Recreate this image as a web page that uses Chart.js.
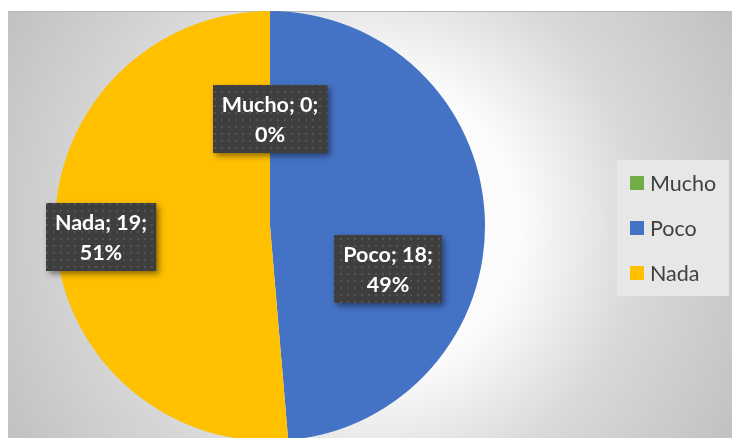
<!DOCTYPE html>
<html>
<head>
<meta charset="utf-8">
<script src="https://cdn.jsdelivr.net/npm/chart.js@4.4.1/dist/chart.umd.min.js"></script>
<style>
  html, body { margin: 0; padding: 0; background: #ffffff; }
  body { width: 732px; height: 438px; position: relative; overflow: hidden; }
  #frame { position: absolute; left: 8px; top: 11px; width: 724px; height: 427px; overflow: hidden; }
  #wrap { position: absolute; left: 0; top: 0; width: 724px; height: 430px; }
</style>
</head>
<body>
<div id="frame"><div id="wrap"><canvas id="c"></canvas></div></div>
<script>
const categories = ['Mucho', 'Poco', 'Nada'];
const values = [0, 18, 19];
const sliceColors = ['#70AD47', '#4472C4', '#FFC000'];

// label placement: angle offset (deg) from slice mid-angle, and radial fraction
const labelAngleOffset = [0, 22.4, -1.3];
const labelRadiusFrac = [0.498, 0.584, 0.788];

const total = values.reduce((a, b) => a + b, 0);

function makePattern(ctx) {
  const t = document.createElement('canvas');
  t.width = 7; t.height = 7;
  const g = t.getContext('2d');
  g.fillStyle = '#3e3e3e';
  g.fillRect(0, 0, 7, 7);
  g.fillStyle = '#535353';
  g.fillRect(3, 3, 2, 2);
  return ctx.createPattern(t, 'repeat');
}

const bgPlugin = {
  id: 'bg',
  beforeDraw(chart) {
    const ctx = chart.ctx;
    const w = chart.width, h = chart.height;
    const cx = chart.chartArea.left + (chart.chartArea.right - chart.chartArea.left) / 2 + 100;
    const cy = (chart.chartArea.top + chart.chartArea.bottom) / 2;
    ctx.save();
    const g = ctx.createRadialGradient(cx, cy, 0, cx, cy, 420);
    g.addColorStop(0, '#ffffff');
    g.addColorStop(0.36, '#fbfbfb');
    g.addColorStop(0.64, '#d9d9d9');
    g.addColorStop(1, '#c1c1c1');
    ctx.fillStyle = g;
    ctx.fillRect(0, 0, w, h);
    ctx.fillStyle = '#b9b9b9';
    ctx.fillRect(0, 0, w, 1);
    ctx.restore();
  }
};

const legendPlugin = {
  id: 'customLegend',
  afterDraw(chart) {
    const ctx = chart.ctx;
    const ca = chart.chartArea;
    const cy = (ca.top + ca.bottom) / 2;
    const left = ca.right + 85;
    const n = chart.data.labels.length;
    const step = 45;
    ctx.save();
    ctx.fillStyle = '#e7e7e7';
    ctx.fillRect(left, cy - 66, 112, 136);
    ctx.font = '21.5px Lato, "Open Sans", sans-serif';
    ctx.textBaseline = 'middle';
    ctx.textAlign = 'left';
    chart.data.labels.forEach((lab, i) => {
      const y = cy + (i - (n - 1) / 2) * step + 2;
      ctx.fillStyle = chart.data.datasets[0].backgroundColor[i];
      ctx.fillRect(left + 13, y - 7, 14, 14);
      ctx.fillStyle = '#404040';
      ctx.fillText(lab, left + 33, y + 1);
    });
    ctx.restore();
  }
};

const labelPlugin = {
  id: 'boxLabels',
  afterDatasetsDraw(chart) {
    const ctx = chart.ctx;
    const meta = chart.getDatasetMeta(0);
    const pattern = makePattern(ctx);
    ctx.save();
    ctx.font = 'bold 21.5px Lato, "Open Sans", sans-serif';
    meta.data.forEach((arc, i) => {
      const p = arc.getProps(['x', 'y', 'startAngle', 'endAngle', 'outerRadius'], true);
      const mid = (p.startAngle + p.endAngle) / 2 + labelAngleOffset[i] * Math.PI / 180;
      const r = p.outerRadius * labelRadiusFrac[i];
      const lx = p.x + Math.cos(mid) * r;
      const ly = p.y + Math.sin(mid) * r;
      const v = chart.data.datasets[0].data[i];
      const l1 = chart.data.labels[i] + '; ' + v + ';';
      const l2 = Math.round(v / total * 100) + '%';
      const tw = Math.max(ctx.measureText(l1).width, ctx.measureText(l2).width);
      const bw = tw + 18, lh = 30, bh = lh * 2 + 8;
      const bx = Math.round(lx - bw / 2), by = Math.round(ly - bh / 2);
      ctx.save();
      ctx.shadowColor = 'rgba(0,0,0,0.45)';
      ctx.shadowBlur = 6;
      ctx.shadowOffsetX = 3;
      ctx.shadowOffsetY = 3;
      ctx.fillStyle = '#3e3e3e';
      ctx.fillRect(bx, by, bw, bh);
      ctx.restore();
      ctx.fillStyle = pattern;
      ctx.fillRect(bx, by, bw, bh);
      ctx.fillStyle = '#ffffff';
      ctx.textAlign = 'center';
      ctx.textBaseline = 'middle';
      ctx.fillText(l1, lx, by + 4 + lh / 2 + 1);
      ctx.fillText(l2, lx, by + 4 + lh * 1.5 + 1);
    });
    ctx.restore();
  }
};

new Chart(document.getElementById('c'), {
  type: 'pie',
  data: {
    labels: categories,
    datasets: [{
      data: values,
      backgroundColor: sliceColors,
      borderWidth: 0
    }]
  },
  options: {
    responsive: true,
    maintainAspectRatio: false,
    animation: false,
    layout: { padding: { left: 0, right: 200, top: 0, bottom: 0 } },
    plugins: {
      legend: { display: false },
      tooltip: { enabled: false }
    }
  },
  plugins: [bgPlugin, labelPlugin, legendPlugin]
});
</script>
</body>
</html>
